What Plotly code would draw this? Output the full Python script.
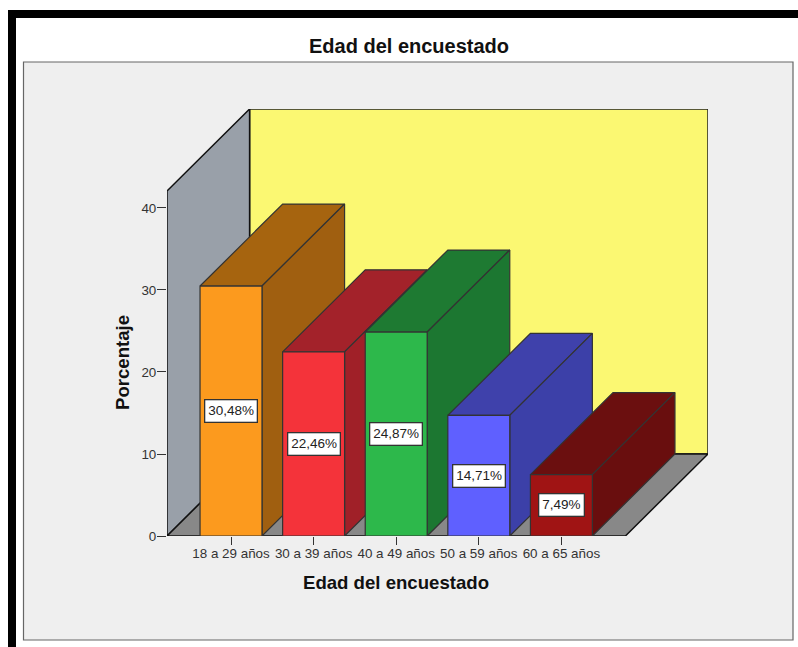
import plotly.graph_objects as go

categories = ["18 a 29 años", "30 a 39 años", "40 a 49 años", "50 a 59 años", "60 a 65 años"]
percentages = [30.48, 22.46, 24.87, 14.71, 7.49]
value_labels = ["30,48%", "22,46%", "24,87%", "14,71%", "7,49%"]
y_ticks = [0, 10, 20, 30, 40]

front_colors = ["#FC9A1E", "#F4333A", "#2DB84B", "#5F60FF", "#A01414"]
top_colors = ["#A6640F", "#A3222A", "#1E7A32", "#3F41AB", "#6B0F0F"]
side_colors = ["#A05F10", "#A02028", "#1C7731", "#3C40A8", "#690E0E"]

W, H = 798, 647
H_AREA = H - 8  # plot area height, the paper coordinates below are relative to it
OUTLINE = "#333333"
BAR_W = 0.75
DEPTH_X = 1.0   # one category step to the back
DEPTH_Y = 10.0  # ten percent points up
X_MIN, X_MAX = -0.775, 5.775
WALL_TOP = 42.07


def face(fig, xs, ys, color, line=OUTLINE, width=1.2):
    fig.add_trace(go.Scatter(
        x=xs + xs[:1], y=ys + ys[:1], mode="lines", fill="toself", fillcolor=color,
        line=dict(color=line, width=width), hoverinfo="skip", showlegend=False,
        cliponaxis=False,
    ))


fig = go.Figure()

# back wall, side wall, floor
face(fig, [X_MIN + DEPTH_X, X_MAX, X_MAX, X_MIN + DEPTH_X],
     [DEPTH_Y, DEPTH_Y, WALL_TOP + DEPTH_Y, WALL_TOP + DEPTH_Y], "#FBF872", "#222222", 1.5)
face(fig, [X_MIN, X_MIN + DEPTH_X, X_MIN + DEPTH_X, X_MIN],
     [0, DEPTH_Y, WALL_TOP + DEPTH_Y, WALL_TOP], "#99A0A9", "#111111", 1.5)
face(fig, [X_MIN, X_MIN + DEPTH_X, X_MAX, X_MAX - DEPTH_X],
     [0, DEPTH_Y, DEPTH_Y, 0], "#888888", "#111111", 1.5)

# bars go left to right so later ones cover the sides of earlier ones
for i, v in enumerate(percentages):
    left, right = i - BAR_W / 2, i + BAR_W / 2
    face(fig, [left, right, right + DEPTH_X, left + DEPTH_X],
         [v, v, v + DEPTH_Y, v + DEPTH_Y], top_colors[i])
    face(fig, [right, right + DEPTH_X, right + DEPTH_X, right],
         [0, DEPTH_Y, v + DEPTH_Y, v], side_colors[i])
    face(fig, [left, right, right, left], [0, 0, v, v], front_colors[i])

annotations = [
    dict(x=i, y=v / 2, xref="x", yref="y", text=value_labels[i], showarrow=False,
         font=dict(family="Liberation Sans", size=13.5, color="#222222"),
         bgcolor="white", bordercolor="#333333", borderwidth=1.3, borderpad=3)
    for i, v in enumerate(percentages)
]
annotations.append(dict(
    x=396 / W, y=1 - 582 / H_AREA, xref="paper", yref="paper", text="<b>Edad del encuestado</b>",
    xanchor="center", yanchor="middle",
    showarrow=False, font=dict(family="Liberation Sans", size=18.6, color="#111111"),
))
annotations.append(dict(
    x=122 / W, y=1 - 363 / H_AREA, xref="paper", yref="paper", text="<b>Porcentaje</b>",
    xanchor="center", yanchor="middle",
    textangle=-90, showarrow=False, font=dict(family="Liberation Sans", size=18.6, color="#111111"),
))


def px_rect(x0, y0, x1, y1, **kw):
    return dict(type="rect", xref="paper", yref="paper", x0=x0 / W, x1=x1 / W,
                y0=1 - y0 / H_AREA, y1=1 - y1 / H_AREA, layer="below", **kw)


fig.update_layout(
    width=W, height=H,
    margin=dict(l=0, r=0, t=0, b=8),
    paper_bgcolor="white",
    plot_bgcolor="rgba(0,0,0,0)",
    font=dict(family="Liberation Sans", color="#333333"),
    title=dict(text="<b>Edad del encuestado</b>", x=409 / W, xanchor="center",
               y=1 - 46 / H, yanchor="middle",
               font=dict(family="Liberation Sans", size=20, color="#111111")),
    xaxis=dict(domain=[167 / W, 708 / W], range=[X_MIN, X_MAX], tickmode="array",
               tickvals=list(range(len(categories))), ticktext=categories,
               ticks="outside", ticklen=8, tickcolor="#333333", tickwidth=1.2,
               ticklabelstandoff=-3,
               tickfont=dict(size=13.4), showgrid=False, zeroline=False, showline=False),
    yaxis=dict(domain=[1 - 536 / H_AREA, 1 - 109 / H_AREA], range=[0, WALL_TOP + DEPTH_Y], tickmode="array",
               tickvals=y_ticks, ticks="outside", ticklen=9, tickcolor="#333333", tickwidth=1.2,
               ticklabelstandoff=-2,
               tickfont=dict(size=13.4), showgrid=False, zeroline=False, showline=False),
    annotations=annotations,
    shapes=[
        px_rect(23.5, 62, 793, 640, fillcolor="#EFEFEF", line=dict(color="#666666", width=1.2)),
        px_rect(8, 10, 16, 647, fillcolor="black", line=dict(width=0)),
        px_rect(8, 10, 798, 18, fillcolor="black", line=dict(width=0)),
    ],
)

# the page's default body margin would push the figure 8px in
post = "document.body.style.margin='0';document.body.style.overflow='hidden';"
fig.write_html("out.html", post_script=post, config=dict(displayModeBar=False))
